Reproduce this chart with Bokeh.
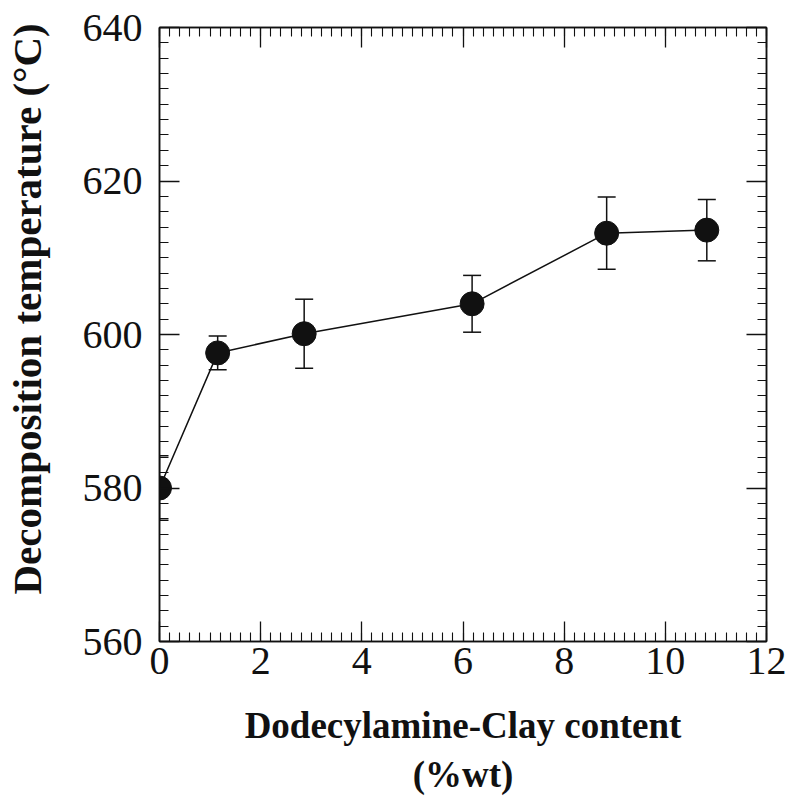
from bokeh.plotting import figure
from bokeh.models import (ColumnDataSource, Whisker, TeeHead, LinearAxis,
                          SingleIntervalTicker, Range1d)
from bokeh.embed import file_html
from bokeh.resources import INLINE

# Data
clay_content = [0.0, 1.15, 2.86, 6.18, 8.84, 10.82]
decomp_temp = [580.0, 597.6, 600.1, 604.0, 613.2, 613.6]
temp_err = [4.2, 2.2, 4.5, 3.7, 4.7, 4.0]

x_label = "Dodecylamine-Clay content\n(%wt)"
y_label = "\u00a0\u00a0\u00a0\u00a0\u00a0Decomposition temperature (\u00b0C)"

upper = [v + e for v, e in zip(decomp_temp, temp_err)]
lower = [v - e for v, e in zip(decomp_temp, temp_err)]
src = ColumnDataSource(dict(x=clay_content, y=decomp_temp, upper=upper, lower=lower))

INK = "#111111"
SERIF = "Liberation Serif"

p = figure(width=786, height=807, output_backend="svg", toolbar_location=None,
           x_range=Range1d(0, 12), y_range=Range1d(560, 640),
           min_border_left=158, min_border_right=20, min_border_top=27,
           min_border_bottom=166, x_axis_location=None, y_axis_location=None)
p.grid.visible = False
p.outline_line_color = INK
p.outline_line_width = 1.5
p.background_fill_color = "white"
p.border_fill_color = "white"


def style_axis(ax, labels=True):
    ax.axis_line_color = INK
    ax.axis_line_width = 1.5
    ax.major_tick_line_color = INK
    ax.minor_tick_line_color = INK
    ax.major_tick_line_width = 1.3
    ax.minor_tick_line_width = 1.1
    ax.major_tick_in = 20
    ax.major_tick_out = 0
    ax.minor_tick_in = 9
    ax.minor_tick_out = 0
    if labels:
        ax.major_label_text_font = SERIF
        ax.major_label_text_font_size = "40px"
        ax.major_label_text_color = INK
        ax.axis_label_text_font = SERIF
        ax.axis_label_text_font_style = "bold"
        ax.axis_label_text_font_size = "37px"
        ax.axis_label_text_color = INK
    else:
        ax.major_label_text_font_size = "0px"
        ax.major_label_text_alpha = 0


xt = lambda: SingleIntervalTicker(interval=2, num_minor_ticks=10)
yt = lambda: SingleIntervalTicker(interval=20, num_minor_ticks=10)

bottom = LinearAxis(ticker=xt(), axis_label=x_label)
style_axis(bottom)
bottom.major_label_standoff = 6
bottom.axis_label_standoff = 28
p.add_layout(bottom, "below")

left = LinearAxis(ticker=yt(), axis_label=y_label)
style_axis(left)
left.axis_label_text_font_size = "41px"
left.major_label_standoff = 17
left.axis_label_standoff = 30
p.add_layout(left, "left")

top = LinearAxis(ticker=xt())
style_axis(top, labels=False)
p.add_layout(top, "above")

right = LinearAxis(ticker=yt())
style_axis(right, labels=False)
p.add_layout(right, "right")

p.line("x", "y", source=src, line_color=INK, line_width=1.5)
w = Whisker(source=src, base="x", upper="upper", lower="lower",
            line_color=INK, line_width=1.5,
            upper_head=TeeHead(size=18, line_color=INK, line_width=1.5),
            lower_head=TeeHead(size=18, line_color=INK, line_width=1.5))
p.add_layout(w)
p.scatter("x", "y", source=src, size=24, fill_color=INK, line_color=INK)

open("out.html", "w").write(file_html(p, INLINE))
